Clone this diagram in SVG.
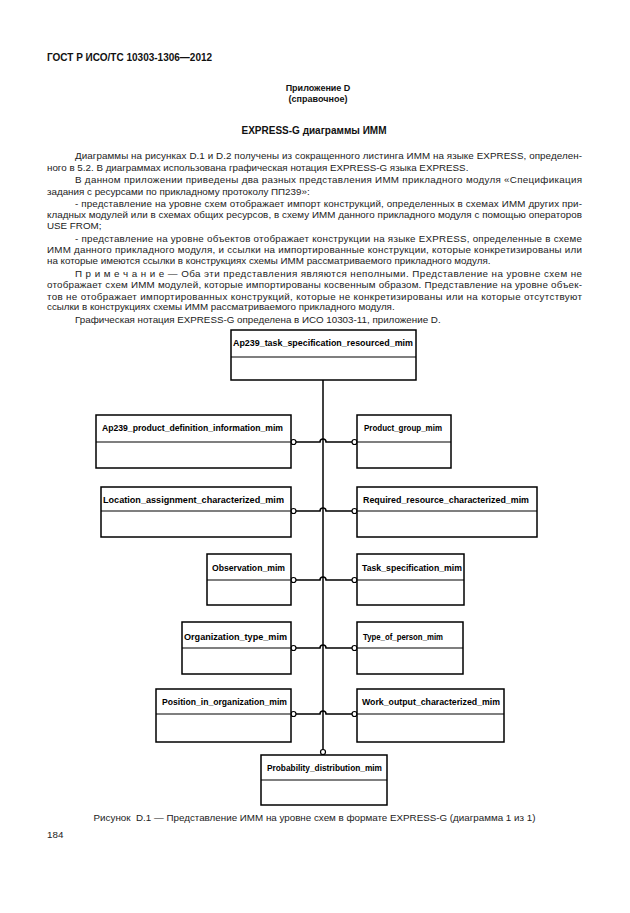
<svg xmlns="http://www.w3.org/2000/svg" width="630" height="913" viewBox="0 0 630 913">
<style>
.t{font-family:"Liberation Sans",Arial,sans-serif;font-size:9.8px;fill:#222}
.h{font-family:"Liberation Sans",Arial,sans-serif;font-weight:bold;fill:#111}
.lbl{font-family:"Liberation Sans",Arial,sans-serif;font-weight:bold;font-size:8.4px;fill:#000}
.box{fill:#fff;stroke:#000;stroke-width:1.5}
.div{stroke:#000;stroke-width:1.1}
.con{fill:none;stroke:#000;stroke-width:1.5}
.end{fill:#fff;stroke:#000;stroke-width:1.2}
</style>
<rect width="630" height="913" fill="#fff"/>
<text class="h" x="47" y="61" font-size="10">ГОСТ Р ИСО/ТС 10303-1306—2012</text>
<text class="h" x="318" y="91" font-size="9" text-anchor="middle">Приложение D</text>
<text class="h" x="318" y="102" font-size="9" text-anchor="middle">(справочное)</text>
<text class="h" x="314" y="134" font-size="10" text-anchor="middle">EXPRESS-G диаграммы ИММ</text>
<g id="body-text" class="t">
<text x="75" y="159" textLength="507" lengthAdjust="spacing">Диаграммы на рисунках D.1 и D.2 получены из сокращенного листинга ИММ на языке EXPRESS, определен-</text>
<text x="47" y="171">ного в 5.2. В диаграммах использована графическая нотация EXPRESS-G языка EXPRESS.</text>
<text x="75" y="183" textLength="507" lengthAdjust="spacing">В данном приложении приведены два разных представления ИММ прикладного модуля «Спецификация</text>
<text x="47" y="194.5">задания с ресурсами по прикладному протоколу ПП239»:</text>
<text x="75" y="206.5" textLength="507" lengthAdjust="spacing">- представление на уровне схем отображает импорт конструкций, определенных в схемах ИММ других при-</text>
<text x="47" y="218" textLength="535" lengthAdjust="spacing">кладных модулей или в схемах общих ресурсов, в схему ИММ данного прикладного модуля с помощью операторов</text>
<text x="47" y="229">USE FROM;</text>
<text x="75" y="241.5" textLength="507" lengthAdjust="spacing">- представление на уровне объектов отображает конструкции на языке EXPRESS, определенные в схеме</text>
<text x="47" y="253" textLength="535" lengthAdjust="spacing">ИММ данного прикладного модуля, и ссылки на импортированные конструкции, которые конкретизированы или</text>
<text x="47" y="264">на которые имеются ссылки в конструкциях схемы ИММ рассматриваемого прикладного модуля.</text>
<text x="75" y="277" textLength="507" lengthAdjust="spacing">П р и м е ч а н и е — Оба эти представления являются неполными. Представление на уровне схем не</text>
<text x="47" y="288" textLength="535" lengthAdjust="spacing">отображает схем ИММ модулей, которые импортированы косвенным образом. Представление на уровне объек-</text>
<text x="47" y="299.5" textLength="535" lengthAdjust="spacing">тов не отображает импортированных конструкций, которые не конкретизированы или на которые отсутствуют</text>
<text x="47" y="310">ссылки в конструкциях схемы ИММ рассматриваемого прикладного модуля.</text>
<text x="75" y="323">Графическая нотация EXPRESS-G определена в ИСО 10303-11, приложение D.</text>
</g>
<g id="connectors">
<path class="con" d="M323,380 V752"/>
<path class="con" d="M294,442 H320 A3,3 0 0 1 326,442 H355"/>
<path class="con" d="M294,511 H320 A3,3 0 0 1 326,511 H355"/>
<path class="con" d="M294,580 H320 A3,3 0 0 1 326,580 H355"/>
<path class="con" d="M294,648 H320 A3,3 0 0 1 326,648 H355"/>
<path class="con" d="M294,714 H320 A3,3 0 0 1 326,714 H355"/>
<circle class="end" cx="293.5" cy="442" r="2.5"/>
<circle class="end" cx="354.5" cy="442" r="2.5"/>
<circle class="end" cx="293.5" cy="511" r="2.5"/>
<circle class="end" cx="354.5" cy="511" r="2.5"/>
<circle class="end" cx="293.5" cy="580" r="2.5"/>
<circle class="end" cx="354.5" cy="580" r="2.5"/>
<circle class="end" cx="293.5" cy="648" r="2.5"/>
<circle class="end" cx="354.5" cy="648" r="2.5"/>
<circle class="end" cx="293.5" cy="714" r="2.5"/>
<circle class="end" cx="354.5" cy="714" r="2.5"/>
<circle class="end" cx="323" cy="752" r="2.5"/>
</g>
<g id="n-ap239-task">
<rect class="box" x="231" y="330" width="185" height="50"/>
<line class="div" x1="231" y1="357" x2="416" y2="357"/>
<text class="lbl" x="233" y="346" textLength="180" lengthAdjust="spacingAndGlyphs">Ap239_task_specification_resourced_mim</text>
</g>
<g id="n-ap239-product">
<rect class="box" x="96" y="415" width="195" height="53"/>
<line class="div" x1="96" y1="442" x2="291" y2="442"/>
<text class="lbl" x="102" y="431" textLength="181" lengthAdjust="spacingAndGlyphs">Ap239_product_definition_information_mim</text>
</g>
<g id="n-product-group">
<rect class="box" x="357" y="415" width="94" height="53"/>
<line class="div" x1="357" y1="442" x2="451" y2="442"/>
<text class="lbl" x="364" y="431" textLength="78" lengthAdjust="spacingAndGlyphs">Product_group_mim</text>
</g>
<g id="n-location">
<rect class="box" x="101" y="487" width="190" height="50"/>
<line class="div" x1="101" y1="511" x2="291" y2="511"/>
<text class="lbl" x="103" y="503" textLength="181" lengthAdjust="spacingAndGlyphs">Location_assignment_characterized_mim</text>
</g>
<g id="n-required">
<rect class="box" x="357" y="487" width="180" height="50"/>
<line class="div" x1="357" y1="511" x2="537" y2="511"/>
<text class="lbl" x="363" y="503" textLength="166" lengthAdjust="spacingAndGlyphs">Required_resource_characterized_mim</text>
</g>
<g id="n-observation">
<rect class="box" x="207" y="554" width="84" height="51"/>
<line class="div" x1="207" y1="580" x2="291" y2="580"/>
<text class="lbl" x="212" y="571" textLength="73" lengthAdjust="spacingAndGlyphs">Observation_mim</text>
</g>
<g id="n-task-spec">
<rect class="box" x="357" y="554" width="107" height="51"/>
<line class="div" x1="357" y1="580" x2="464" y2="580"/>
<text class="lbl" x="362" y="571" textLength="100" lengthAdjust="spacingAndGlyphs">Task_specification_mim</text>
</g>
<g id="n-org-type">
<rect class="box" x="182" y="622" width="109" height="52"/>
<line class="div" x1="182" y1="648" x2="291" y2="648"/>
<text class="lbl" x="184" y="640" textLength="103" lengthAdjust="spacingAndGlyphs">Organization_type_mim</text>
</g>
<g id="n-type-person">
<rect class="box" x="357" y="622" width="106" height="52"/>
<line class="div" x1="357" y1="648" x2="463" y2="648"/>
<text class="lbl" x="363" y="640" textLength="80" lengthAdjust="spacingAndGlyphs">Type_of_person_mim</text>
</g>
<g id="n-position">
<rect class="box" x="156" y="689" width="135" height="53"/>
<line class="div" x1="156" y1="714" x2="291" y2="714"/>
<text class="lbl" x="162" y="705" textLength="125" lengthAdjust="spacingAndGlyphs">Position_in_organization_mim</text>
</g>
<g id="n-work-output">
<rect class="box" x="357" y="689" width="147" height="53"/>
<line class="div" x1="357" y1="714" x2="504" y2="714"/>
<text class="lbl" x="362" y="705" textLength="138" lengthAdjust="spacingAndGlyphs">Work_output_characterized_mim</text>
</g>
<g id="n-probability">
<rect class="box" x="261" y="755" width="126" height="50"/>
<line class="div" x1="261" y1="780" x2="387" y2="780"/>
<text class="lbl" x="267" y="771" textLength="115" lengthAdjust="spacingAndGlyphs">Probability_distribution_mim</text>
</g>
<text class="t" x="314.5" y="821" text-anchor="middle" xml:space="preserve">Рисунок  D.1 — Представление ИММ на уровне схем в формате EXPRESS-G (диаграмма 1 из 1)</text>
<text class="t" x="47" y="838">184</text>
</svg>
